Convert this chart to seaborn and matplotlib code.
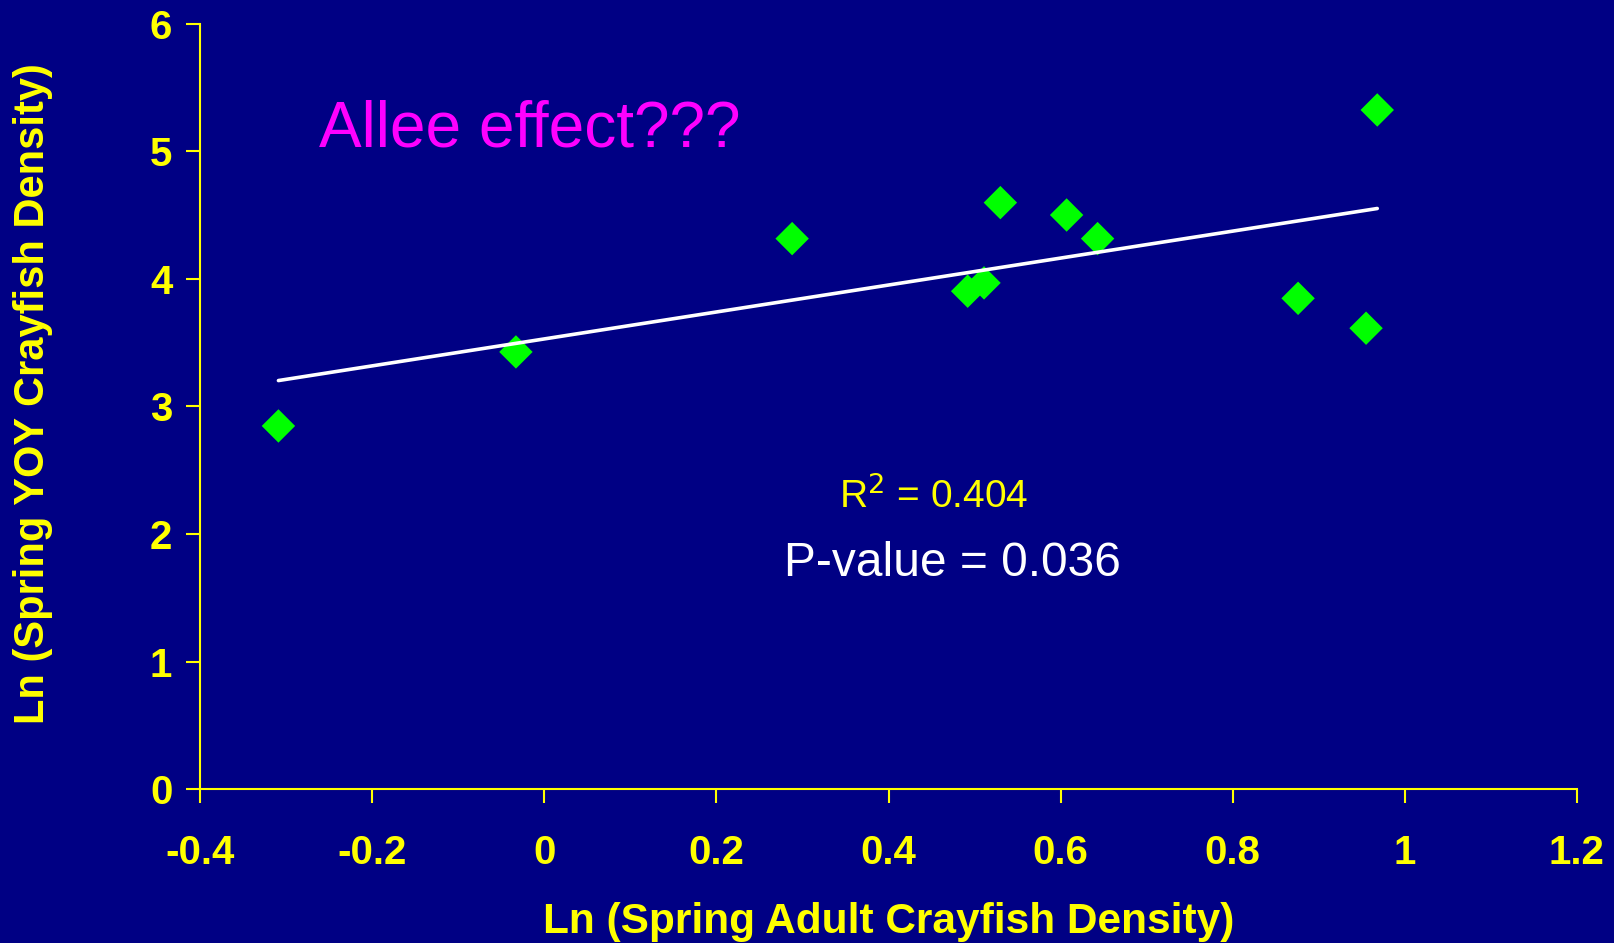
import numpy as np
import pandas as pd
import matplotlib
matplotlib.use("Agg")
import matplotlib.pyplot as plt
import seaborn as sns

# data
adult_ln = [-0.309, -0.033, 0.288, 0.492, 0.511, 0.530, 0.607, 0.643, 0.876, 0.955, 0.968]
yoy_ln = [2.847, 3.427, 4.315, 3.903, 3.968, 4.597, 4.500, 4.315, 3.847, 3.613, 5.323]

x_ticks = [-0.4, -0.2, 0, 0.2, 0.4, 0.6, 0.8, 1, 1.2]
x_tick_labels = ["-0.4", "-0.2", "0", "0.2", "0.4", "0.6", "0.8", "1", "1.2"]
y_ticks = [0, 1, 2, 3, 4, 5, 6]

BG = "#000084"
YELLOW = "#ffff00"

sns.set_style("dark")
plt.rcParams["font.family"] = ["Liberation Sans", "DejaVu Sans"]

df = pd.DataFrame({"adult": adult_ln, "yoy": yoy_ln})

fig = plt.figure(figsize=(16.14, 9.43), dpi=100, facecolor=BG)
ax = fig.add_axes([0.124, 0.163, 0.853, 0.812])
ax.set_facecolor(BG)

sns.scatterplot(data=df, x="adult", y="yoy", marker="D", s=290,
                color="#00ff00", edgecolor="none", ax=ax, zorder=2)

# linear trend line over the data range
slope, icpt = np.polyfit(df["adult"], df["yoy"], 1)
xs = np.array([df["adult"].min(), df["adult"].max()])
ax.plot(xs, slope * xs + icpt, color="white", lw=2.6, zorder=3)

ax.set_xlim(-0.4, 1.2)
ax.set_ylim(0, 6)
ax.set_xticks(x_ticks)
ax.set_xticklabels(x_tick_labels)
ax.set_yticks(y_ticks)
ax.grid(False)

for side in ["top", "right"]:
    ax.spines[side].set_visible(False)
for side in ["left", "bottom"]:
    ax.spines[side].set_visible(True)
    ax.spines[side].set_color(YELLOW)
    ax.spines[side].set_linewidth(1.5)

ax.tick_params(axis="both", colors=YELLOW, length=10, width=1.5, direction="out",
               labelsize=29, bottom=True, left=True)
ax.tick_params(axis="x", pad=22)
ax.tick_params(axis="y", pad=10)
for lab in ax.get_xticklabels() + ax.get_yticklabels():
    lab.set_fontweight("bold")

ax.set_xlabel("Ln (Spring Adult Crayfish Density)", color=YELLOW, fontsize=30.5,
              fontweight="bold", labelpad=22)
ax.set_ylabel("Ln (Spring YOY Crayfish Density)", color=YELLOW, fontsize=30,
              fontweight="bold", labelpad=70)
ax.yaxis.label.set_y(0.517)

ax.text(-0.262, 5.17, "Allee effect???", color="#ff00ff", fontsize=46, va="center", ha="left")
ax.text(0.342, 2.3, r"R$^{2}$ = 0.404", color=YELLOW, fontsize=28, va="center", ha="left")
ax.text(0.279, 1.77, "P-value = 0.036", color="white", fontsize=34.5, va="center", ha="left")

fig.savefig("out.png", dpi=100, facecolor=BG)
